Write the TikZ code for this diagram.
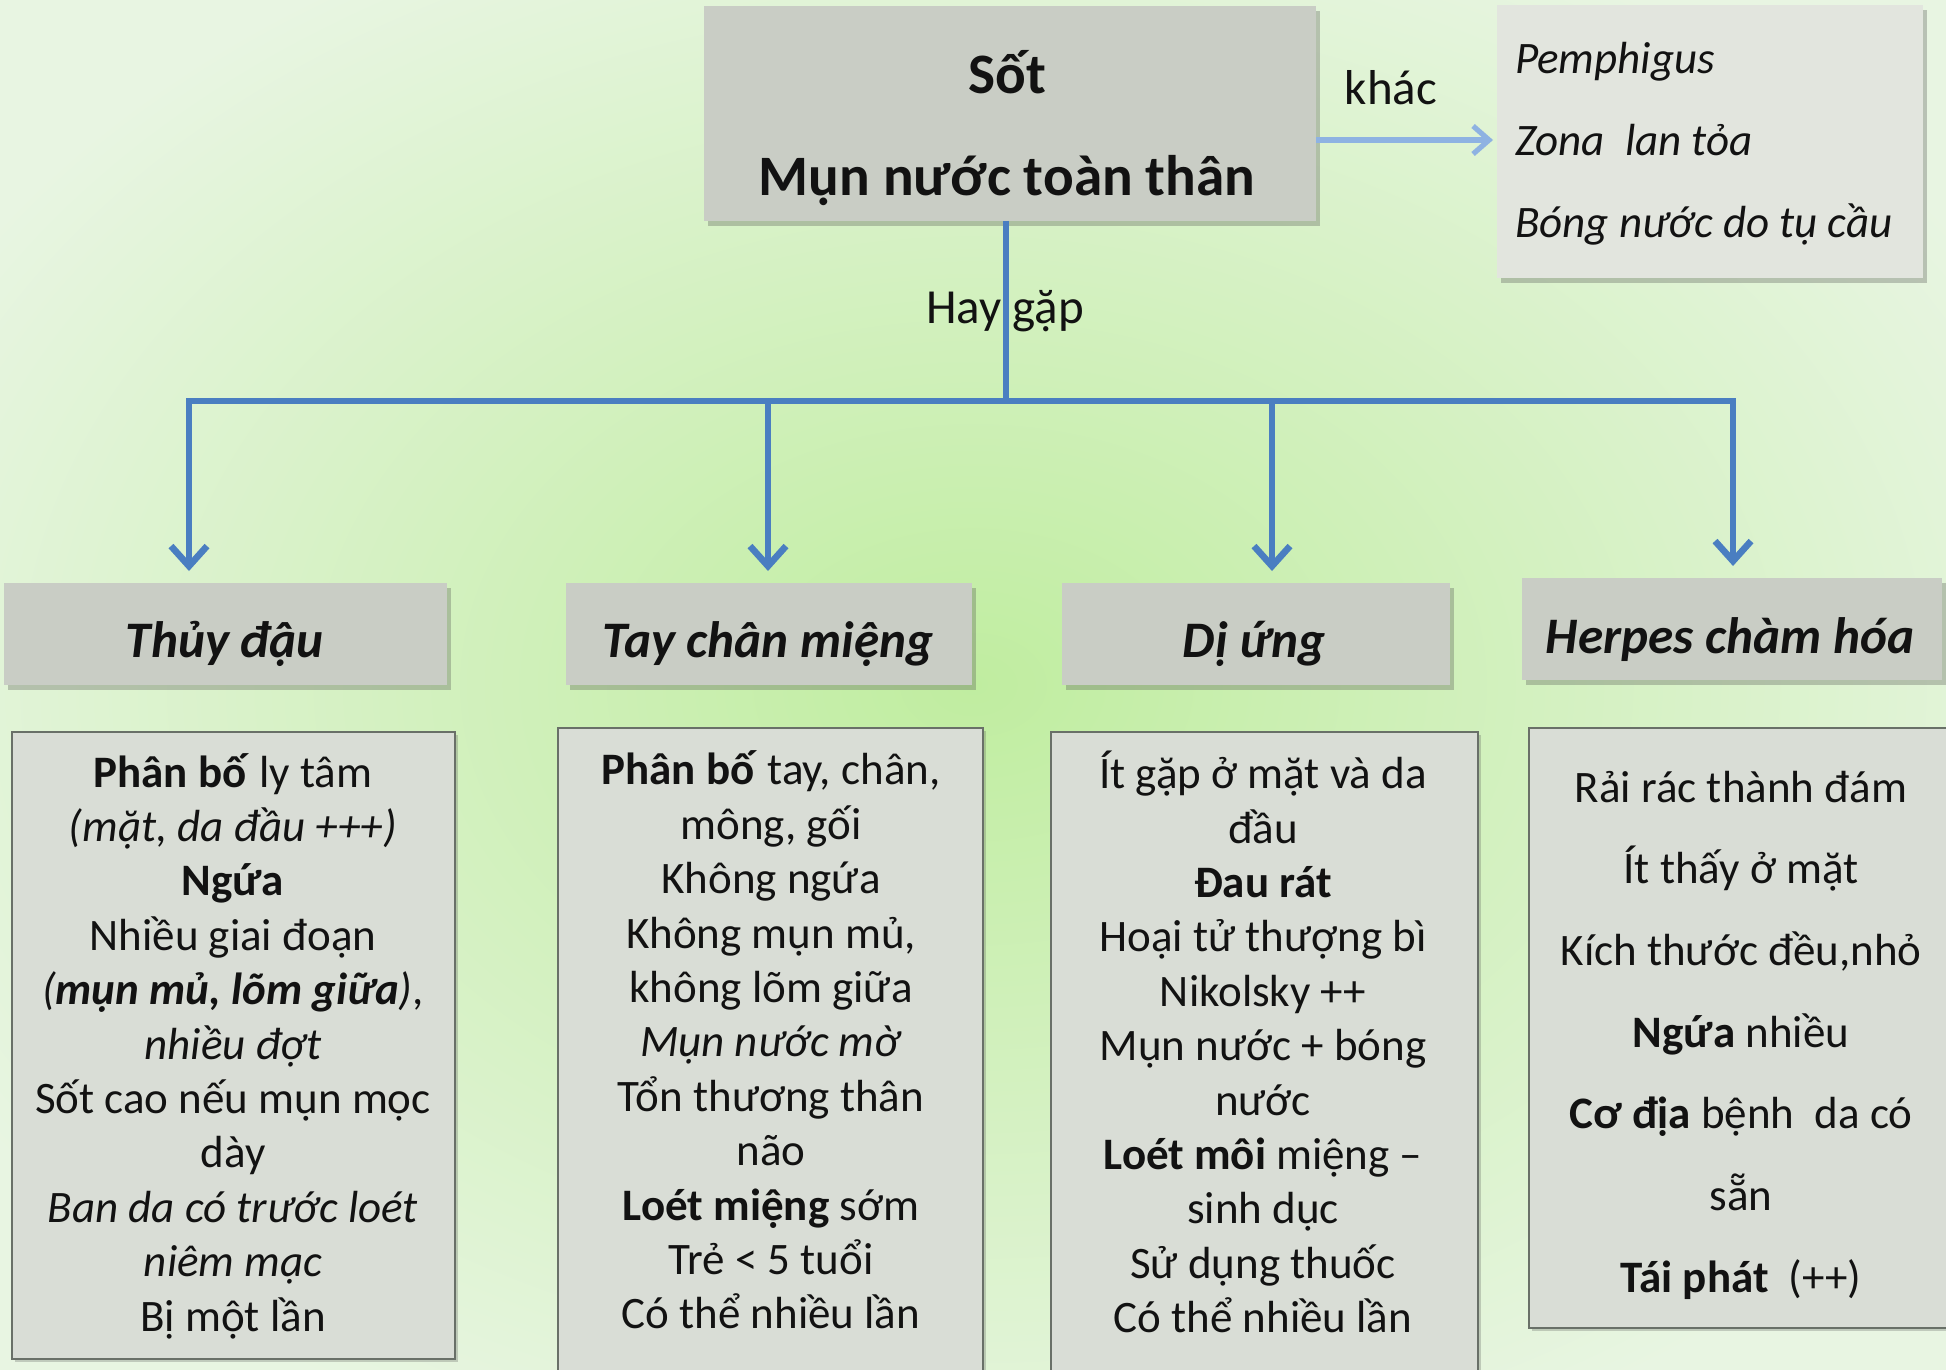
\documentclass[tikz,border=0pt]{standalone}
\usepackage{fontspec}
\setmainfont{Carlito}
\usetikzlibrary{arrows.meta,shadows}
\definecolor{bgin}{RGB}{192,237,160}
\definecolor{bgout}{RGB}{232,245,226}
\definecolor{hdrfill}{RGB}{201,205,197}
\definecolor{boxfill}{RGB}{217,221,214}
\definecolor{boxline}{RGB}{105,112,104}
\definecolor{rfill}{RGB}{226,229,222}
\definecolor{arrowblue}{RGB}{74,126,193}
\definecolor{lightblue}{RGB}{142,178,226}
\definecolor{txt}{RGB}{18,18,18}
\begin{document}
\begin{tikzpicture}[x=0.5pt,y=-0.5pt,
  every node/.style={inner sep=0pt, outer sep=0pt, text=txt},
  softshadow/.style={drop shadow={shadow xshift=2pt,shadow yshift=-2.5pt,opacity=0.3,fill=black!70}},
  hdrbox/.style={fill=hdrfill, minimum height=51pt, softshadow},
  hdrtext/.style={anchor=base, font=\fontsize{25.6}{30}\selectfont\bfseries\itshape},
  topboxstyle/.style={fill=hdrfill, minimum width=306pt, minimum height=107.5pt, softshadow},
  otherbox/.style={fill=rfill, minimum width=213pt, minimum height=136.5pt, softshadow},
  cbox/.style={fill=boxfill, draw=boxline, line width=1.2pt,
    drop shadow={shadow xshift=1.5pt,shadow yshift=-1.5pt,opacity=0.25,fill=black!70}},
  body/.style={align=center, font=\fontsize{22.5}{27.2}\selectfont},
  bodywide/.style={align=center, font=\fontsize{22.5}{40.85}\selectfont},
  toptext/.style={anchor=base, font=\fontsize{28.6}{35}\selectfont\bfseries},
  rtext/.style={anchor=base west, font=\fontsize{22.5}{27}\selectfont\itshape},
  lbl/.style={anchor=base, font=\fontsize{24.5}{29}\selectfont},
  arr/.style={draw=arrowblue, line width=3.3pt, line join=miter,
    -{Straight Barb[length=10pt,width=18pt]}, shorten >=6pt},
  trunkline/.style={draw=arrowblue, line width=3.3pt},
  lightarr/.style={draw=lightblue, line width=2.6pt,
    -{Straight Barb[length=8pt,width=14pt]}, shorten >=2pt}
]
\useasboundingbox (0,0) rectangle (1946,1369);
\clip (0,0) rectangle (1946,1369);
\shade[inner color=bgin, outer color=bgout] (-200,-150) rectangle (2146,1519);

% top box and other box
\node[topboxstyle] (top) at (1010,113.5) {};
\node[toptext] (sot) at (1007,94) {Sốt};
\node[toptext] (mun) at (1007,196) {Mụn nước toàn thân};
\node[otherbox] (other) at (1710,142) {};
\node[rtext] (r1) at (1515,74) {Pemphigus};
\node[rtext] (r2) at (1515,156) {Zona\ \ lan tỏa};
\node[rtext] (r3) at (1515,238) {Bóng nước do tụ cầu};

% labels
\node[lbl] (khac) at (1391,105) {khác};
\node[lbl] (hay) at (1005,323) {Hay gặp};

% headers
\node[hdrbox, minimum width=221.5pt] (h1) at (225.5,634) {};
\node[hdrbox, minimum width=203pt] (h2) at (769,634) {};
\node[hdrbox, minimum width=194pt] (h3) at (1256,634) {};
\node[hdrbox, minimum width=210pt] (h4) at (1732,629) {};
\node[hdrtext] (h1t) at (225,657) {Thủy đậu};
\node[hdrtext] (h2t) at (768,657) {Tay chân miệng};
\node[hdrtext] (h3t) at (1254,657) {Dị ứng};
\node[hdrtext] (h4t) at (1730,653) {Herpes chàm hóa};

% content boxes
\node[cbox, minimum width=221.5pt, minimum height=313.5pt] (c1) at (233.5,1045.5) {};
\node[cbox, minimum width=212.5pt, minimum height=326pt] (c2) at (770.5,1054) {};
\node[cbox, minimum width=213.5pt, minimum height=324pt] (c3) at (1264.5,1056) {};
\node[cbox, minimum width=213.5pt, minimum height=300pt] (c4) at (1742.5,1028) {};

\node[body] (t1) at (233,1046) {\textbf{Phân bố} ly tâm\\
\textit{(mặt, da đầu +++)}\\
\textbf{Ngứa}\\
Nhiều giai đoạn\\
\textit{(\textbf{mụn mủ, lõm giữa})},\\
\textit{nhiều đợt}\\
Sốt cao nếu mụn mọc\\
dày\\
\textit{Ban da có trước loét}\\
\textit{niêm mạc}\\
Bị một lần};

\node[body] (t2) at (771,1040) {\textbf{Phân bố} tay, chân,\\
mông, gối\\
Không ngứa\\
Không mụn mủ,\\
không lõm giữa\\
\textit{Mụn nước mờ}\\
Tổn thương thân\\
não\\
\textbf{Loét miệng} sớm\\
Trẻ < 5 tuổi\\
Có thể nhiều lần};

\node[body] (t3) at (1263,1042) {Ít gặp ở mặt và da\\
đầu\\
\textbf{Đau rát}\\
Hoại tử thượng bì\\
Nikolsky ++\\
Mụn nước + bóng\\
nước\\
\textbf{Loét môi} miệng –\\
sinh dục\\
Sử dụng thuốc\\
Có thể nhiều lần};

\node[bodywide] (t4) at (1741,1035) {Rải rác thành đám\\
Ít thấy ở mặt\\
Kích thước đều,nhỏ\\
\textbf{Ngứa} nhiều\\
\textbf{Cơ địa} bệnh\ \ da có\\
sẵn\\
\textbf{Tái phát}\ \ (++)};

% connectors
\coordinate (jc) at (1006,401);
\coordinate (j1) at (189,401);
\coordinate (j2) at (768,401);
\coordinate (j3) at (1272,401);
\coordinate (j4) at (1733,401);
\coordinate (kh) at (0,140);
\draw[trunkline] (jc |- top.south) -- (jc);
\draw[arr] (jc) -| (j1 |- h1.north);
\draw[arr] (jc) -| (j4 |- h4.north);
\draw[arr] (j2) -- (j2 |- h2.north);
\draw[arr] (j3) -- (j3 |- h3.north);
\draw[lightarr] (top.east |- kh) -- (other.west |- kh);
\end{tikzpicture}
\end{document}
